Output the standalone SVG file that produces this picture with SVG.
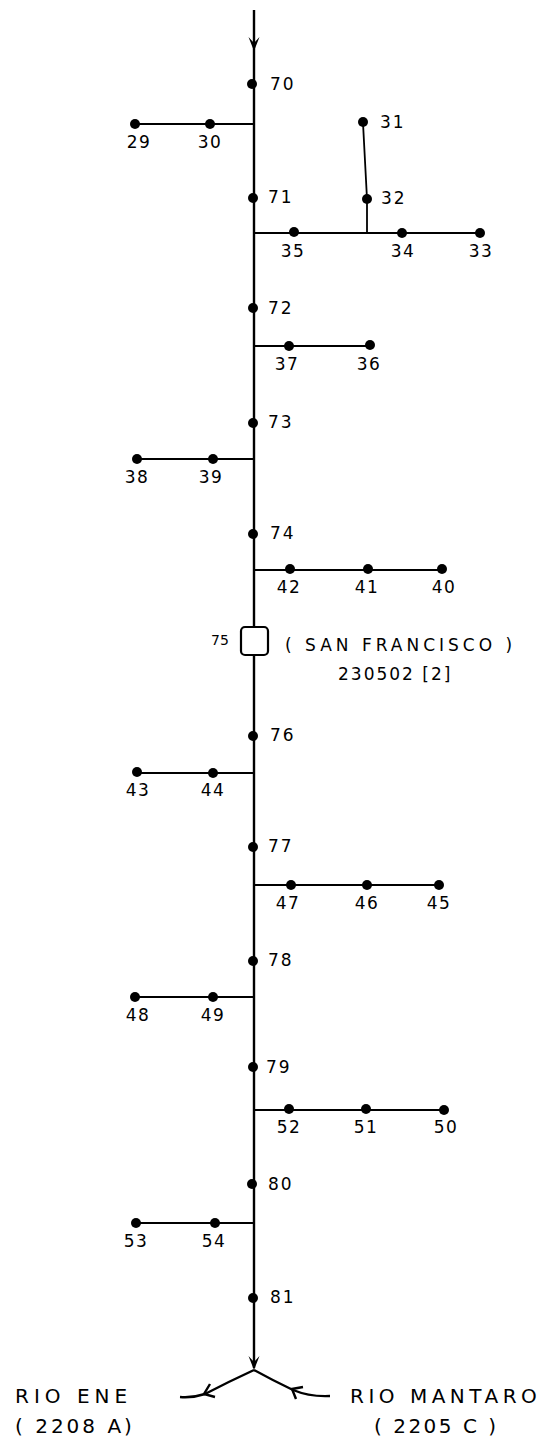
<svg xmlns="http://www.w3.org/2000/svg" width="543" height="1442" viewBox="0 0 543 1442">
<style>
.main{stroke:#000;stroke-width:2.4;fill:none}
.br{stroke:#000;stroke-width:1.8;fill:none}
.dot{fill:#000}
text{font-family:"DejaVu Sans","Liberation Sans",sans-serif;fill:#000}
.lr{font-size:17px;letter-spacing:2px}
.lb{font-size:17px;letter-spacing:1.5px;text-anchor:middle}
.big{font-size:20px;letter-spacing:5px}
.mid{font-size:17px;letter-spacing:4px}
</style>
<rect width="543" height="1442" fill="#fff"/>
<g id="connectors">
<path class="main" d="M254,10 V627 M254,655 V1368"/>
<path class="dot" d="M248.5,37 L254,51 L259.5,37 L254,43 Z"/>
<path class="dot" d="M248.5,1356 L254,1370 L259.5,1356 L254,1362 Z"/>
<path class="br" d="M135,124 H254"/>
<path class="br" d="M363,123 L367,199 V233"/>
<path class="br" d="M254,233 H480"/>
<path class="br" d="M254,346 H370"/>
<path class="br" d="M137,459 H254"/>
<path class="br" d="M254,570 H442"/>
<path class="br" d="M137,773 H254"/>
<path class="br" d="M254,885 H439"/>
<path class="br" d="M135,997 H254"/>
<path class="br" d="M254,1110 H444"/>
<path class="br" d="M136,1223 H254"/>
<path class="main" d="M254,1370 Q228,1382 205,1394 Q193,1398 180,1397"/>
<path class="main" d="M210,1384 L204,1394 L215,1397"/>
<path class="main" d="M254,1370 Q272,1380 293,1390 Q310,1397 330,1396"/>
<path class="main" d="M296,1399 L292,1389 L303,1387"/>
</g>
<g id="n70"><circle class="dot" cx="252" cy="84" r="5"/><text class="lr" x="270" y="90">70</text></g>
<g id="n29"><circle class="dot" cx="135" cy="124" r="5"/><text class="lb" x="139" y="148">29</text></g>
<g id="n30"><circle class="dot" cx="210" cy="124" r="5"/><text class="lb" x="210" y="148">30</text></g>
<g id="n31"><circle class="dot" cx="363" cy="122" r="5"/><text class="lr" x="380" y="128">31</text></g>
<g id="n71"><circle class="dot" cx="253" cy="198" r="5"/><text class="lr" x="268" y="203">71</text></g>
<g id="n32"><circle class="dot" cx="367" cy="199" r="5"/><text class="lr" x="381" y="204">32</text></g>
<g id="n35"><circle class="dot" cx="294" cy="232" r="5"/><text class="lb" x="293" y="257">35</text></g>
<g id="n34"><circle class="dot" cx="402" cy="233" r="5"/><text class="lb" x="403" y="257">34</text></g>
<g id="n33"><circle class="dot" cx="480" cy="233" r="5"/><text class="lb" x="481" y="257">33</text></g>
<g id="n72"><circle class="dot" cx="253" cy="308" r="5"/><text class="lr" x="268" y="314">72</text></g>
<g id="n37"><circle class="dot" cx="289" cy="346" r="5"/><text class="lb" x="287" y="370">37</text></g>
<g id="n36"><circle class="dot" cx="370" cy="345" r="5"/><text class="lb" x="369" y="370">36</text></g>
<g id="n73"><circle class="dot" cx="253" cy="423" r="5"/><text class="lr" x="268" y="428">73</text></g>
<g id="n38"><circle class="dot" cx="137" cy="459" r="5"/><text class="lb" x="137" y="483">38</text></g>
<g id="n39"><circle class="dot" cx="213" cy="459" r="5"/><text class="lb" x="211" y="483">39</text></g>
<g id="n74"><circle class="dot" cx="253" cy="534" r="5"/><text class="lr" x="270" y="539">74</text></g>
<g id="n42"><circle class="dot" cx="290" cy="569" r="5"/><text class="lb" x="289" y="593">42</text></g>
<g id="n41"><circle class="dot" cx="368" cy="569" r="5"/><text class="lb" x="367" y="593">41</text></g>
<g id="n40"><circle class="dot" cx="442" cy="569" r="5"/><text class="lb" x="444" y="593">40</text></g>
<g id="n75"><rect x="241" y="627" width="27" height="28" rx="4" fill="#fff" stroke="#000" stroke-width="2.2"/><text x="211" y="645" style="font-size:14px">75</text><text class="mid" x="285" y="651">( SAN FRANCISCO )</text><text x="338" y="680" style="font-size:17px;letter-spacing:2px">230502 [2]</text></g>
<g id="n76"><circle class="dot" cx="253" cy="736" r="5"/><text class="lr" x="270" y="741">76</text></g>
<g id="n43"><circle class="dot" cx="137" cy="772" r="5"/><text class="lb" x="138" y="796">43</text></g>
<g id="n44"><circle class="dot" cx="213" cy="773" r="5"/><text class="lb" x="213" y="796">44</text></g>
<g id="n77"><circle class="dot" cx="253" cy="847" r="5"/><text class="lr" x="268" y="852">77</text></g>
<g id="n47"><circle class="dot" cx="291" cy="885" r="5"/><text class="lb" x="288" y="909">47</text></g>
<g id="n46"><circle class="dot" cx="367" cy="885" r="5"/><text class="lb" x="367" y="909">46</text></g>
<g id="n45"><circle class="dot" cx="439" cy="885" r="5"/><text class="lb" x="439" y="909">45</text></g>
<g id="n78"><circle class="dot" cx="253" cy="961" r="5"/><text class="lr" x="268" y="966">78</text></g>
<g id="n48"><circle class="dot" cx="135" cy="997" r="5"/><text class="lb" x="138" y="1021">48</text></g>
<g id="n49"><circle class="dot" cx="213" cy="997" r="5"/><text class="lb" x="213" y="1021">49</text></g>
<g id="n79"><circle class="dot" cx="253" cy="1067" r="5"/><text class="lr" x="266" y="1073">79</text></g>
<g id="n52"><circle class="dot" cx="289" cy="1109" r="5"/><text class="lb" x="289" y="1133">52</text></g>
<g id="n51"><circle class="dot" cx="366" cy="1109" r="5"/><text class="lb" x="366" y="1133">51</text></g>
<g id="n50"><circle class="dot" cx="444" cy="1110" r="5"/><text class="lb" x="446" y="1133">50</text></g>
<g id="n80"><circle class="dot" cx="252" cy="1184" r="5"/><text class="lr" x="268" y="1190">80</text></g>
<g id="n53"><circle class="dot" cx="136" cy="1223" r="5"/><text class="lb" x="136" y="1247">53</text></g>
<g id="n54"><circle class="dot" cx="215" cy="1223" r="5"/><text class="lb" x="214" y="1247">54</text></g>
<g id="n81"><circle class="dot" cx="253" cy="1298" r="5"/><text class="lr" x="270" y="1303">81</text></g>
<g id="rio-ene"><text class="big" x="15" y="1403">RIO ENE</text><text class="big" x="15" y="1433" style="letter-spacing:3px">( 2208 A)</text></g>
<g id="rio-mantaro"><text class="big" x="350" y="1403" style="letter-spacing:4.5px">RIO MANTARO</text><text class="big" x="374" y="1433" style="letter-spacing:2.5px">( 2205 C )</text></g>
</svg>
